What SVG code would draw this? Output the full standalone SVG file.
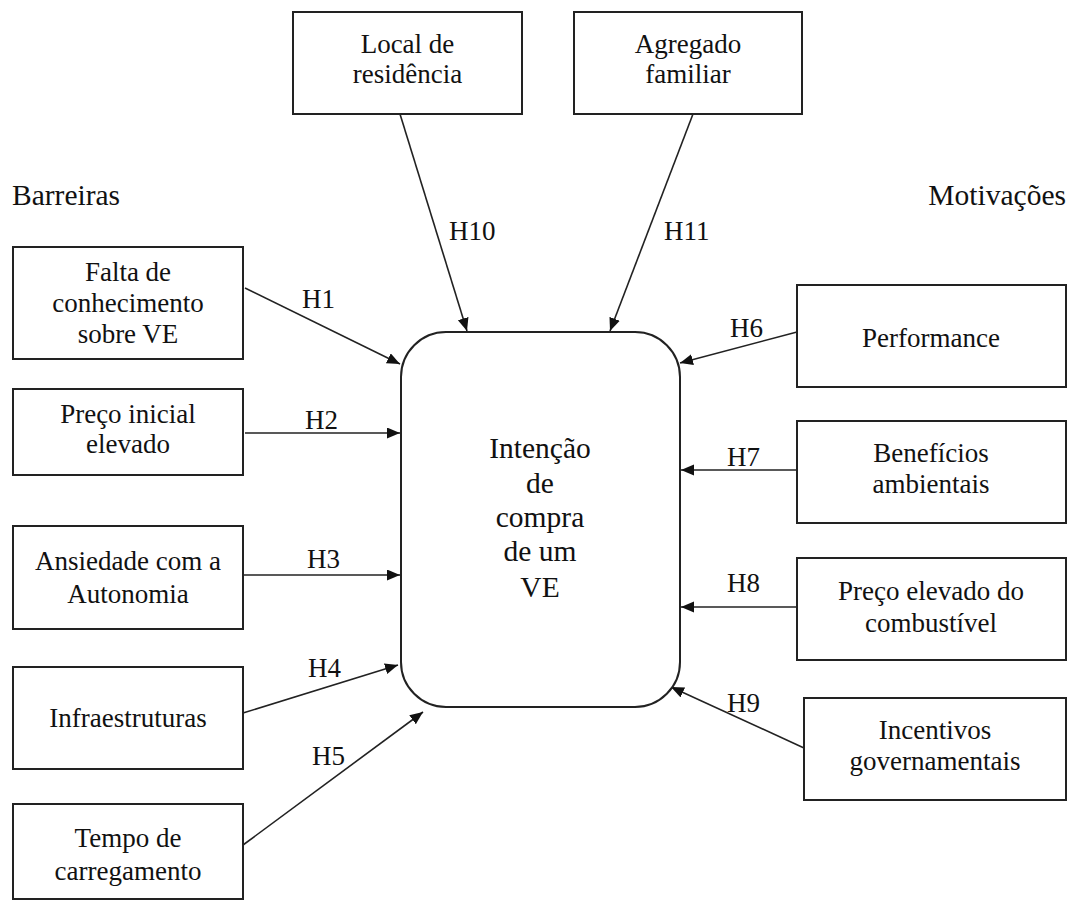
<svg xmlns="http://www.w3.org/2000/svg" width="1068" height="901" viewBox="0 0 1068 901">
<style>
.box{fill:#fff;stroke:#222;stroke-width:2}
text{fill:#111;font-family:'Liberation Serif','Times New Roman',Times,serif}
.t{font-size:27px;text-anchor:middle}
.h{font-size:27px}
.big{font-size:29.5px}
.c{fill:none;stroke:#222;stroke-width:1.6;marker-end:url(#ah)}
</style>
<defs>
<marker id="ah" markerUnits="userSpaceOnUse" markerWidth="14" markerHeight="12" refX="13" refY="5.5" orient="auto">
<path d="M0,0 L13,5.5 L0,11 z" fill="#111"/>
</marker>
</defs>
<rect width="1068" height="901" fill="#fff"/>
<g font-family="Liberation Serif, serif">
<text class="big" x="12" y="205" font-family="Liberation Serif, serif">Barreiras</text>
<text class="big" x="1066" y="205" text-anchor="end" font-family="Liberation Serif, serif">Motivações</text>

<g id="connectors">
<line class="c" x1="400" y1="114" x2="467" y2="331"/>
<line class="c" x1="693" y1="114" x2="610" y2="331"/>
<line class="c" x1="245" y1="288" x2="400" y2="364"/>
<line class="c" x1="245" y1="433" x2="400" y2="433"/>
<line class="c" x1="243" y1="575" x2="400" y2="575"/>
<line class="c" x1="243" y1="713" x2="398" y2="665"/>
<line class="c" x1="243" y1="845" x2="423" y2="712"/>
<line class="c" x1="797" y1="332" x2="680" y2="363"/>
<line class="c" x1="797" y1="470" x2="681" y2="470"/>
<line class="c" x1="797" y1="607" x2="681" y2="607"/>
<line class="c" x1="804" y1="748" x2="671" y2="687"/>
<text class="h" x="449" y="240">H10</text>
<text class="h" x="664" y="240">H11</text>
<text class="h" x="302" y="308">H1</text>
<text class="h" x="305" y="429">H2</text>
<text class="h" x="307" y="568">H3</text>
<text class="h" x="308" y="677">H4</text>
<text class="h" x="312" y="765">H5</text>
<text class="h" x="730" y="337">H6</text>
<text class="h" x="727" y="466">H7</text>
<text class="h" x="727" y="592">H8</text>
<text class="h" x="727" y="712">H9</text>
</g>

<g id="local">
<rect class="box" x="293" y="12" width="229" height="102"/>
<text class="t" x="407.5" y="53">Local de</text>
<text class="t" x="407.5" y="83">residência</text>
</g>
<g id="agregado">
<rect class="box" x="574" y="12" width="228" height="102"/>
<text class="t" x="688" y="53">Agregado</text>
<text class="t" x="688" y="83">familiar</text>
</g>

<g id="intencao">
<rect class="box" x="401" y="332" width="279" height="375" rx="45" ry="45"/>
<text class="big" x="540" y="458" text-anchor="middle">Intenção</text>
<text class="big" x="540" y="493" text-anchor="middle">de</text>
<text class="big" x="540" y="527" text-anchor="middle">compra</text>
<text class="big" x="540" y="561" text-anchor="middle">de um</text>
<text class="big" x="540" y="597" text-anchor="middle">VE</text>
</g>

<g id="falta">
<rect class="box" x="13" y="247" width="230" height="112"/>
<text class="t" x="128" y="281">Falta de</text>
<text class="t" x="128" y="312">conhecimento</text>
<text class="t" x="128" y="343">sobre VE</text>
</g>
<g id="preco-inicial">
<rect class="box" x="13" y="389" width="230" height="86"/>
<text class="t" x="128" y="423">Preço inicial</text>
<text class="t" x="128" y="453">elevado</text>
</g>
<g id="ansiedade">
<rect class="box" x="13" y="526" width="230" height="103"/>
<text class="t" x="128" y="570">Ansiedade com a</text>
<text class="t" x="128" y="603">Autonomia</text>
</g>
<g id="infra">
<rect class="box" x="13" y="667" width="230" height="102"/>
<text class="t" x="128" y="727">Infraestruturas</text>
</g>
<g id="tempo">
<rect class="box" x="13" y="804" width="230" height="95"/>
<text class="t" x="128" y="847">Tempo de</text>
<text class="t" x="128" y="880">carregamento</text>
</g>

<g id="performance">
<rect class="box" x="797" y="285" width="269" height="102"/>
<text class="t" x="931" y="347">Performance</text>
</g>
<g id="beneficios">
<rect class="box" x="797" y="421" width="269" height="102"/>
<text class="t" x="931" y="462">Benefícios</text>
<text class="t" x="931" y="493">ambientais</text>
</g>
<g id="combustivel">
<rect class="box" x="797" y="558" width="269" height="102"/>
<text class="t" x="931" y="600">Preço elevado do</text>
<text class="t" x="931" y="632">combustível</text>
</g>
<g id="incentivos">
<rect class="box" x="804" y="698" width="262" height="102"/>
<text class="t" x="935" y="739">Incentivos</text>
<text class="t" x="935" y="770">governamentais</text>
</g>
</g>
</svg>
